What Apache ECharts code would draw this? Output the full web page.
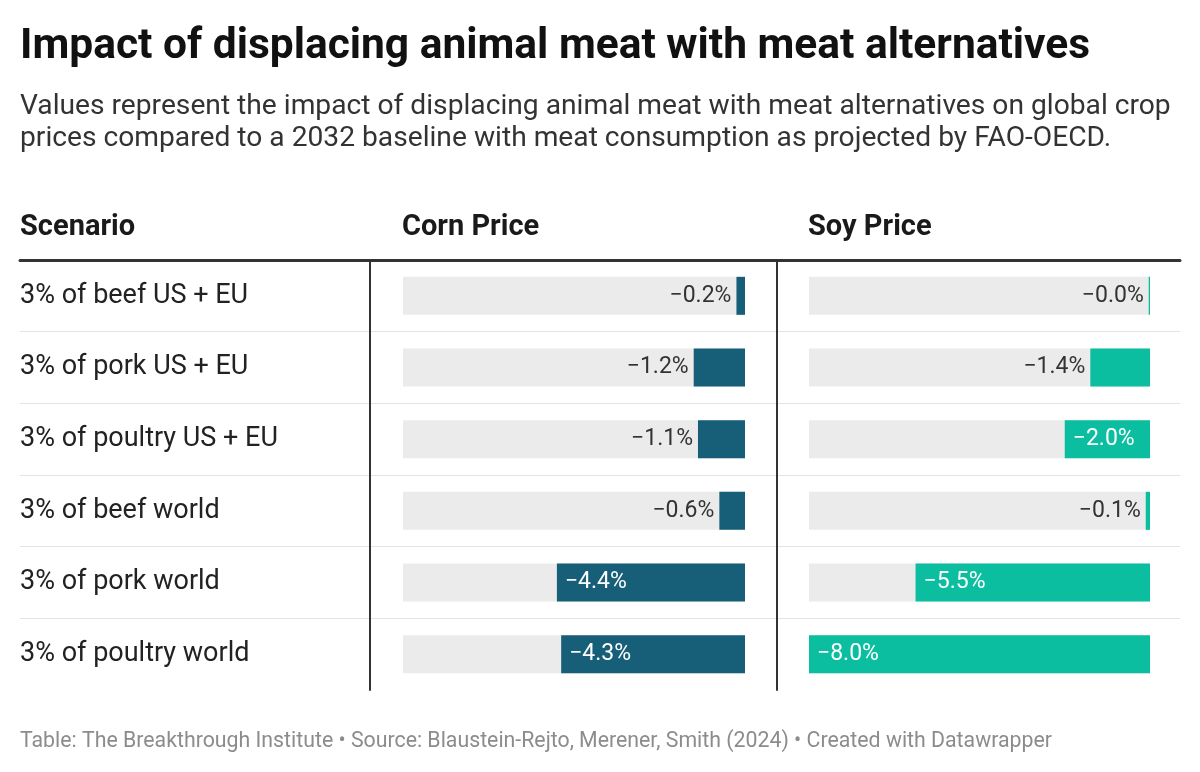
<!DOCTYPE html>
<html>
<head>
<meta charset="utf-8">
<script src="https://cdn.jsdelivr.net/npm/echarts@6/dist/echarts.min.js"></script>
<style>
  html, body { margin: 0; padding: 0; background: #fff; }
  #chart { width: 1200px; height: 772px; }
</style>
</head>
<body>
<div id="chart"></div>
<script>
// table data
var scenarios = ['3% of beef US + EU', '3% of pork US + EU', '3% of poultry US + EU',
  '3% of beef world', '3% of pork world', '3% of poultry world'];
var cornPrice = [-0.2, -1.2, -1.1, -0.6, -4.4, -4.3];
var soyPrice = [-0.03, -1.4, -2.0, -0.1, -5.5, -8.0];
var columns = ['Scenario', 'Corn Price', 'Soy Price'];

var FONT = 'Roboto, "Noto Sans", sans-serif';
var TOP = 260, ROWS_H = 430;
var CORN_L = 403, CORN_W = 342, SOY_L = 809, SOY_W = 341;

function fmt(v) {
  return '\u2212' + Math.abs(v).toFixed(1) + '%';
}

// small bars get the label outside (dark), wide bars inside (white)
function barData(values) {
  return values.map(function(v) {
    var inside = Math.abs(v) >= 1.8;
    return {
      value: v,
      label: inside
        ? { position: 'insideLeft', color: '#fff', distance: 8 }
        : { position: 'left', color: '#333', distance: 5 }
    };
  });
}

function barSeries(values, idx, color) {
  return {
    type: 'bar',
    xAxisIndex: idx,
    yAxisIndex: idx,
    data: barData(values),
    barWidth: 38,
    itemStyle: { color: color },
    showBackground: true,
    backgroundStyle: { color: '#ebebeb' },
    label: {
      show: true,
      fontFamily: FONT,
      fontSize: 23,
      padding: [8, 0, 0, 0],
      formatter: function(p) { return fmt(p.value); }
    },
    silent: true,
    animation: false
  };
}

var valueAxis = function(idx) {
  return {
    type: 'value', gridIndex: idx, min: -8, max: 0,
    axisLine: { show: false }, axisTick: { show: false },
    axisLabel: { show: false }, splitLine: { show: false }
  };
};

function title(text, left, top, size, weight, color, extra) {
  var ts = { fontFamily: FONT, fontSize: size, fontWeight: weight, color: color };
  if (extra) ts.lineHeight = extra;
  return { text: text, left: left, top: top, padding: 0, textStyle: ts };
}

var chart = echarts.init(document.getElementById('chart'), null, { renderer: 'canvas' });
chart.setOption({
  backgroundColor: '#fff',
  textStyle: { fontFamily: FONT },
  title: [
    title('Impact of displacing animal meat with meat alternatives', 20, 26, 42.5, 'bold', '#111'),
    title('Values represent the impact of displacing animal meat with meat alternatives on global crop\nprices compared to a 2032 baseline with meat consumption as projected by FAO-OECD.',
      20, 91, 28.2, 'normal', '#333', 32),
    title(columns[0], 20, 213, 29, 'bold', '#1a1a1a'),
    title(columns[1], CORN_L - 1, 213, 29, 'bold', '#1a1a1a'),
    title(columns[2], SOY_L - 1, 213, 29, 'bold', '#1a1a1a'),
    title('Table: The Breakthrough Institute \u2022 Source: Blaustein-Rejto, Merener, Smith (2024) \u2022 Created with Datawrapper',
      20, 731, 21.3, 'normal', '#8c8c8c')
  ],
  grid: [
    { left: 20, width: 1160, top: TOP, height: ROWS_H },
    { left: CORN_L, width: CORN_W, top: TOP, height: ROWS_H },
    { left: SOY_L, width: SOY_W, top: TOP, height: ROWS_H }
  ],
  xAxis: [
    {
      type: 'value', gridIndex: 0, min: 0, max: 1, position: 'top',
      axisLine: { show: true, lineStyle: { color: '#333', width: 3 } },
      axisTick: { show: false }, axisLabel: { show: false }, splitLine: { show: false }
    },
    valueAxis(1),
    valueAxis(2)
  ],
  yAxis: [
    {
      // row rules across the whole table
      type: 'value', gridIndex: 0, min: 0, max: scenarios.length, interval: 1, inverse: true,
      axisLine: { show: false }, axisTick: { show: false }, axisLabel: { show: false },
      splitLine: { show: true, showMinLine: false, showMaxLine: false, lineStyle: { color: '#e3e3e3', width: 1 } }
    },
    {
      type: 'category', gridIndex: 1, data: scenarios, inverse: true, position: 'left', offset: 33,
      axisLine: { show: true, onZero: false, lineStyle: { color: '#333', width: 2 } },
      axisTick: { show: false },
      axisLabel: { align: 'left', margin: 350, padding: [10, 0, 0, 0], fontFamily: FONT, fontSize: 27, color: '#222' },
      splitLine: { show: false }
    },
    {
      type: 'category', gridIndex: 2, data: scenarios, inverse: true, position: 'left', offset: 32,
      axisLine: { show: true, onZero: false, lineStyle: { color: '#333', width: 2 } },
      axisTick: { show: false }, axisLabel: { show: false }, splitLine: { show: false }
    }
  ],
  series: [
    barSeries(cornPrice, 1, '#175e79'),
    barSeries(soyPrice, 2, '#0bbe9f')
  ]
});
</script>
</body>
</html>
